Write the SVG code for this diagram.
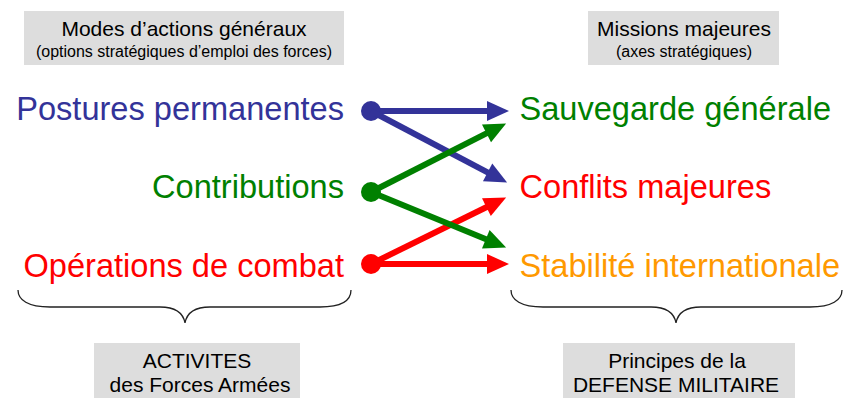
<svg xmlns="http://www.w3.org/2000/svg" width="843" height="398" viewBox="0 0 843 398">
<style>
text{font-family:"Liberation Sans",Arial,sans-serif}
.box{fill:#dddddd}
.h{font-size:21px;fill:#000;text-anchor:middle}
.s{font-size:16px;fill:#000;text-anchor:middle}
.big{font-size:32.6px}
.l{text-anchor:end}
.blue{fill:#333399}
.green{fill:#008000}
.red{fill:#ff0000}
.orange{fill:#ff9900}
.brace{fill:none;stroke:#222;stroke-width:1.3}
.ln{fill:none;stroke-width:6}
</style>
<defs>
<marker id="ab" markerUnits="userSpaceOnUse" markerWidth="22" markerHeight="20" refX="1" refY="10" orient="auto" overflow="visible"><path d="M0,0 L22,10 L0,20 z" fill="#333399"/></marker>
<marker id="ag" markerUnits="userSpaceOnUse" markerWidth="22" markerHeight="20" refX="1" refY="10" orient="auto" overflow="visible"><path d="M0,0 L22,10 L0,20 z" fill="#008000"/></marker>
<marker id="ar" markerUnits="userSpaceOnUse" markerWidth="22" markerHeight="20" refX="1" refY="10" orient="auto" overflow="visible"><path d="M0,0 L22,10 L0,20 z" fill="#ff0000"/></marker>
</defs>

<g id="header-left">
<rect class="box" x="24" y="11" width="320" height="54"/>
<text class="h" x="184" y="35.5">Modes d’actions généraux</text>
<text class="s" x="184" y="57">(options stratégiques d’emploi des forces)</text>
</g>
<g id="header-right">
<rect class="box" x="588" y="11" width="191" height="54"/>
<text class="h" x="684" y="35.5">Missions majeures</text>
<text class="s" x="684" y="57">(axes stratégiques)</text>
</g>

<g id="postures"><text class="big blue l" x="344" y="120">Postures permanentes</text><circle class="blue" cx="371" cy="111" r="10"/></g>
<g id="contributions"><text class="big green l" x="344" y="198">Contributions</text><circle class="green" cx="371" cy="192" r="10"/></g>
<g id="operations"><text class="big red l" x="344" y="277">Opérations de combat</text><circle class="red" cx="371" cy="264" r="10"/></g>

<g id="sauvegarde"><text class="big green" x="519.5" y="119.5">Sauvegarde générale</text></g>
<g id="conflits"><text class="big red" x="519.5" y="198">Conflits majeures</text></g>
<g id="stabilite"><text class="big orange" x="519.5" y="277">Stabilité internationale</text></g>

<g id="connectors">
<line class="ln" stroke="#333399" x1="371" y1="111" x2="488" y2="111" marker-end="url(#ab)"/>
<line class="ln" stroke="#333399" x1="371" y1="111" x2="488.5" y2="172.8" marker-end="url(#ab)"/>
<line class="ln" stroke="#ff0000" x1="371" y1="264" x2="488" y2="264" marker-end="url(#ar)"/>
<line class="ln" stroke="#ff0000" x1="371" y1="264" x2="487.3" y2="206.7" marker-end="url(#ar)"/>
<line class="ln" stroke="#008000" x1="371" y1="192" x2="487.4" y2="132.9" marker-end="url(#ag)"/>
<line class="ln" stroke="#008000" x1="371" y1="192" x2="486.7" y2="239.6" marker-end="url(#ag)"/>
</g>

<g id="brace-left"><path class="brace" d="M18,290 C18,300 28,307 50,307 L160,307 C175,307 183,312 185,323 C187,312 195,307 210,307 L320,307 C342,307 351,300 351,290"/></g>
<g id="brace-right"><path class="brace" d="M511,290 C511,300 521,307 543,307 L651,307 C666,307 674,312 676,323 C678,312 686,307 701,307 L810,307 C832,307 842,300 842,290"/></g>

<g id="footer-left">
<rect class="box" x="94" y="343" width="206" height="55"/>
<text class="h" x="197" y="368">ACTIVITES</text>
<text class="h" x="200" y="391.5">des Forces Armées</text>
</g>
<g id="footer-right">
<rect class="box" x="563" y="343" width="232" height="55"/>
<text class="h" x="677" y="368">Principes de la</text>
<text class="h" x="676" y="391.5">DEFENSE MILITAIRE</text>
</g>
</svg>
